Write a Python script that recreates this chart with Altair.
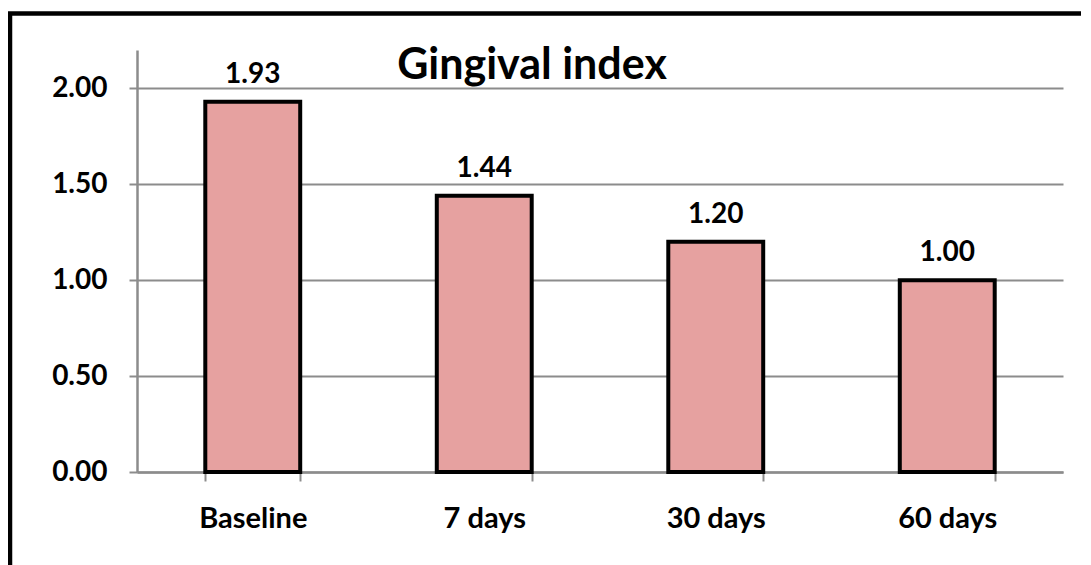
import altair as alt
import pandas as pd

categories = ["Baseline", "7 days", "30 days", "60 days"]
values = [1.93, 1.44, 1.20, 1.00]
labels = ["1.93", "1.44", "1.20", "1.00"]
y_ticks = [0.0, 0.5, 1.0, 1.5, 2.0]
title_text = "Gingival index"

df = pd.DataFrame({"cat": categories, "val": values, "lab": labels})

FONT = "Lato"

x_enc = alt.X(
    "cat:N",
    sort=categories,
    scale=alt.Scale(paddingInner=0.59, paddingOuter=0.295),
    axis=alt.Axis(
        title=None, labelFont=FONT, labelFontSize=29, labelFontWeight="bold",
        labelColor="black", labelAngle=0, labelPadding=23,
        domainColor="#8c8c8c", domainWidth=2.5, tickColor="#8c8c8c",
        tickWidth=2, tickSize=9, tickBand="extent", grid=False,
    ),
)
y_enc = alt.Y(
    "val:Q",
    scale=alt.Scale(domain=[0, 2.2], nice=False),
    axis=alt.Axis(
        title=None, values=y_ticks, format=".2f", labelFont=FONT,
        labelFontSize=28, labelFontWeight="bold", labelColor="black",
        labelPadding=22, domainColor="#8c8c8c", domainWidth=2.5,
        tickColor="#8c8c8c", tickWidth=2, tickSize=8, grid=True,
        gridColor="#8c8c8c", gridWidth=2,
    ),
)

bars = alt.Chart(df).mark_bar(
    color="#E6A1A0", stroke="black", strokeWidth=4
).encode(x=x_enc, y=y_enc)

text = alt.Chart(df).mark_text(
    font=FONT, fontSize=28, fontWeight="bold", color="black",
    baseline="alphabetic", dy=-19,
).encode(x=alt.X("cat:N", sort=categories), y="val:Q", text="lab:N")

title = alt.Chart(pd.DataFrame({"t": [title_text]})).mark_text(
    font=FONT, fontSize=43, fontWeight="bold", color="black",
    align="center", baseline="alphabetic",
).encode(x=alt.value(395), y=alt.value(29), text="t:N")

border = alt.Chart(pd.DataFrame({"a": [0]})).mark_rect(
    fill=None, filled=False, stroke="black", strokeWidth=4.5, clip=False,
).encode(x=alt.value(-127), x2=alt.value(1000), y=alt.value(-36.5), y2=alt.value(600))

chart = alt.layer(bars, text, title, border).properties(
    width=926, height=422,
    autosize=alt.AutoSizeParams(type="none"),
    padding={"left": 129, "top": 42, "right": 18, "bottom": 93},
    background="white",
).configure_view(stroke=None)

chart.save("out.html", embed_options={"renderer": "svg", "actions": False})
